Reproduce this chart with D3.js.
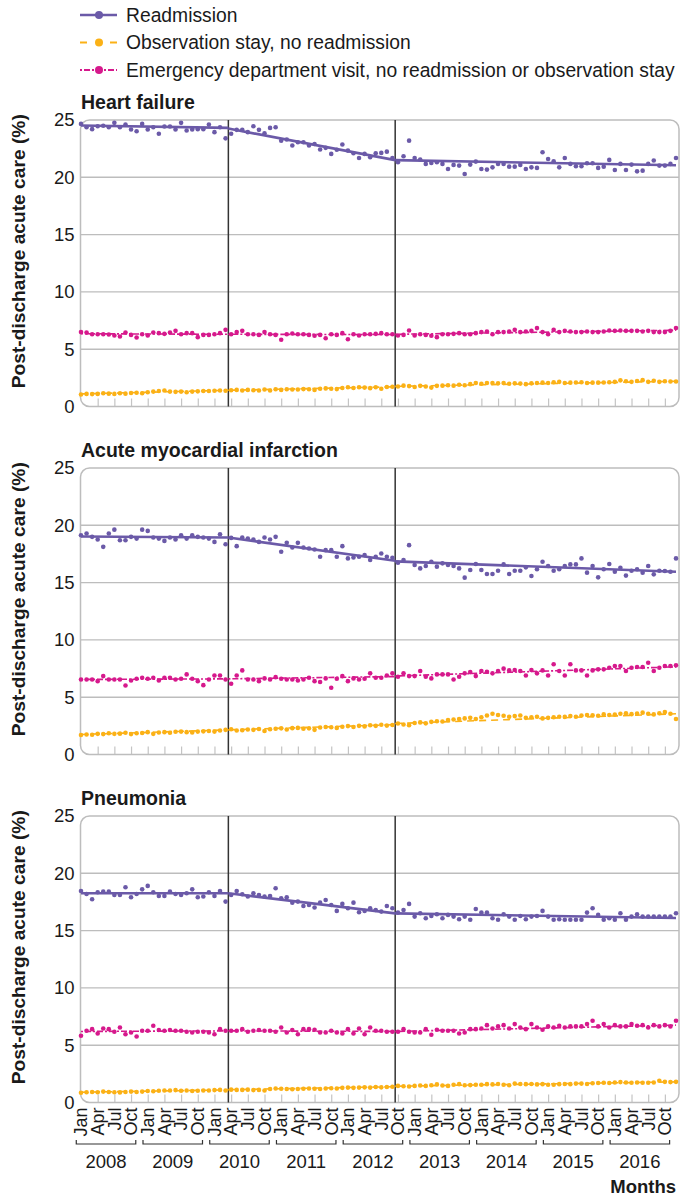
<!DOCTYPE html>
<html><head><meta charset="utf-8">
<script src="https://cdn.jsdelivr.net/npm/d3@7"></script>
<style>
body{margin:0;background:#fff;}
svg{display:block;font-family:"Liberation Sans",Arial,sans-serif;}
</style></head><body>
<svg id="chart" width="680" height="1198"></svg>
<script>
// ---------------- DATA ----------------
const years = [2008, 2009, 2010, 2011, 2012, 2013, 2014, 2015, 2016];
const monthTickLabels = ["Jan", "Apr", "Jul", "Oct"];
const yTicks = [0, 5, 10, 15, 20, 25];
const breakMonths = [26.5, 56.5]; // April 2010 and October 2012
const panelTitles = ["Heart failure", "Acute myocardial infarction", "Pneumonia"];
const seriesNames = ["Readmission", "Observation stay, no readmission",
  "Emergency department visit, no readmission or observation stay"];

// monthly values, Jan 2008 .. Dec 2016 (108 months)
const hfReadmission = [
  24.66,24.37,24.2,24.46,24.5,24.37,24.75,24.37,24.6,24.17,24.02,24.66,
  24.17,24.37,23.8,24.43,24.43,24.17,24.75,24.08,24.17,24.2,24.2,24.6,
  23.94,24.37,23.4,23.8,24.14,24.14,23.94,24.46,24.14,23.85,24.31,24.37,
  23.2,23.3,22.77,23.06,23.06,22.77,22.9,22.42,22.57,22.04,22.4,22.86,
  22.33,22.1,21.69,22.04,21.75,22.1,22.13,22.24,21.69,21.31,21.84,23.2,
  21.69,21.55,21.17,21.25,21.31,21.17,20.73,21.08,21.02,20.29,21.11,21.37,
  20.73,20.67,20.87,21.17,21.17,20.93,20.93,21.08,20.73,20.87,20.82,22.19,
  21.6,21.4,20.87,21.69,21.17,20.96,20.96,21.22,21.22,20.82,20.93,21.52,
  20.64,21.17,20.64,21.11,20.52,20.58,21.17,21.46,21.02,21.02,21.17,21.69];
const hfObservation = [
  1.05,1.10,1.08,1.10,1.15,1.12,1.10,1.15,1.12,1.18,1.20,1.15,
  1.25,1.30,1.35,1.40,1.30,1.28,1.30,1.25,1.30,1.32,1.35,1.35,
  1.38,1.40,1.38,1.42,1.45,1.40,1.45,1.42,1.40,1.48,1.40,1.50,
  1.45,1.50,1.48,1.48,1.52,1.50,1.45,1.55,1.58,1.55,1.52,1.62,
  1.68,1.62,1.68,1.65,1.60,1.68,1.55,1.70,1.72,1.75,1.82,1.78,
  1.70,1.80,1.75,1.65,1.80,1.82,1.85,1.82,1.90,1.85,1.95,2.05,
  1.98,2.05,2.05,2.02,2.05,1.98,2.02,2.00,1.95,2.02,2.05,2.08,
  2.05,2.12,2.15,2.05,2.08,2.10,2.12,2.05,2.08,2.08,2.10,2.12,
  2.15,2.28,2.20,2.15,2.22,2.30,2.15,2.25,2.15,2.20,2.18,2.18];
const hfED = [
  6.49,6.45,6.31,6.31,6.31,6.28,6.20,6.11,6.46,6.25,6.02,6.30,
  6.20,6.46,6.40,6.34,6.46,6.60,6.31,6.40,6.40,6.05,6.25,6.25,
  6.31,6.40,6.69,6.31,6.49,6.60,6.31,6.31,6.25,6.49,6.31,6.25,
  5.82,6.31,6.37,6.31,6.31,6.25,6.17,6.25,5.96,6.31,6.25,6.40,
  5.87,6.31,6.20,6.31,6.31,6.34,6.40,6.31,6.31,6.20,6.25,6.63,
  6.20,6.31,6.25,6.17,6.05,6.31,6.31,6.34,6.40,6.31,6.31,6.40,
  6.49,6.55,6.31,6.49,6.49,6.55,6.69,6.49,6.55,6.60,6.84,6.49,
  6.31,6.69,6.49,6.60,6.55,6.49,6.49,6.55,6.49,6.49,6.55,6.63,
  6.60,6.63,6.60,6.60,6.60,6.55,6.60,6.49,6.49,6.49,6.60,6.84];

const amiReadmission = [
  19.13,19.28,18.99,18.76,18.12,19.28,19.62,18.70,18.70,18.99,18.84,19.62,
  19.51,18.93,18.84,18.64,18.93,18.76,19.13,18.84,19.13,18.99,18.93,18.84,
  18.55,19.22,18.35,18.90,18.18,18.93,18.84,18.76,18.55,18.93,18.76,18.99,
  17.69,18.47,18.06,18.47,18.06,17.98,17.89,17.25,17.83,17.83,17.25,18.18,
  17.11,17.20,17.25,17.40,16.97,17.25,17.54,17.25,17.17,16.73,16.97,18.27,
  16.53,16.24,16.45,16.82,16.39,16.68,16.53,16.45,16.24,15.43,16.10,16.62,
  16.10,15.75,15.75,16.04,16.59,15.75,16.04,16.04,16.33,15.58,16.16,16.82,
  16.45,16.04,16.16,16.45,16.59,16.59,17.11,15.87,16.45,15.46,16.16,16.62,
  15.95,16.30,15.61,16.04,16.16,15.87,16.45,15.72,16.04,16.01,15.95,17.11];
const amiObservation = [
  1.70,1.75,1.72,1.80,1.78,1.85,1.80,1.82,1.90,1.78,1.85,1.88,
  1.95,1.80,1.92,1.95,1.90,1.98,2.00,1.95,1.92,2.00,2.02,2.05,
  2.00,2.10,2.15,2.20,2.10,2.12,2.18,2.15,2.22,2.05,2.20,2.25,
  2.28,2.18,2.30,2.32,2.25,2.28,2.15,2.35,2.40,2.38,2.32,2.42,
  2.48,2.40,2.50,2.45,2.55,2.50,2.60,2.52,2.58,2.70,2.62,2.55,
  2.75,2.80,2.72,2.85,2.90,2.88,3.00,3.05,3.10,3.15,3.20,3.10,
  3.25,3.40,3.55,3.45,3.38,3.30,3.35,3.40,3.20,3.25,3.30,3.15,
  3.20,3.25,3.30,3.28,3.35,3.30,3.40,3.45,3.42,3.38,3.50,3.45,
  3.48,3.55,3.60,3.52,3.58,3.65,3.55,3.50,3.60,3.70,3.55,3.10];
const amiED = [
  6.55,6.55,6.55,6.40,6.84,6.55,6.55,6.55,6.02,6.46,6.61,6.70,
  6.61,6.70,6.46,6.70,6.70,6.55,6.61,6.99,6.61,6.40,6.05,6.55,
  6.90,6.90,6.55,6.17,6.90,7.34,6.55,6.55,6.40,6.64,6.55,6.75,
  6.61,6.55,6.55,6.46,6.55,6.70,6.40,6.32,6.64,5.82,6.61,6.84,
  6.40,6.64,6.55,6.61,7.08,6.70,6.70,6.90,7.08,6.78,7.08,6.84,
  6.84,7.28,6.78,6.64,6.99,6.99,6.99,6.55,6.78,7.08,7.19,6.84,
  7.28,7.22,7.08,7.28,7.49,7.34,7.37,7.28,6.90,7.37,7.08,7.34,
  6.90,7.87,7.28,6.90,7.87,7.34,7.34,6.90,7.34,7.43,7.43,7.57,
  7.72,7.72,7.28,7.57,7.63,7.63,8.01,7.28,7.57,7.72,7.72,7.78];

const pnReadmission = [
  18.46,18.20,17.73,18.34,18.40,18.40,18.11,18.11,18.78,17.91,18.20,18.60,
  18.90,18.34,18.02,18.02,18.40,18.20,18.11,18.26,18.60,17.91,17.97,18.34,
  18.02,18.46,17.53,18.11,18.46,18.17,17.97,18.26,18.11,17.97,18.02,18.69,
  17.82,17.91,17.44,17.53,17.15,17.24,17.01,17.44,17.67,17.24,16.72,17.33,
  16.95,17.44,16.60,16.72,16.95,16.80,16.66,17.15,16.95,16.57,16.80,17.33,
  16.22,16.51,16.08,16.28,16.43,16.08,16.37,16.22,15.99,16.22,15.95,16.89,
  16.57,16.57,16.08,15.95,16.43,16.22,15.95,16.28,15.99,16.22,16.28,16.72,
  16.22,15.95,15.99,15.95,15.95,15.95,15.95,16.57,16.95,16.37,15.95,16.08,
  15.95,16.51,15.95,16.22,16.43,16.22,16.22,16.22,16.22,16.22,16.22,16.51];
const pnObservation = [
  0.85,0.90,0.92,0.90,0.95,0.92,0.90,0.88,0.92,0.95,0.92,0.95,
  1.00,0.98,1.02,1.05,1.05,1.08,1.02,1.05,1.00,1.02,1.05,1.05,
  1.08,1.10,1.05,1.12,1.10,1.10,1.12,1.08,1.10,1.05,1.18,1.22,
  1.20,1.18,1.15,1.18,1.20,1.22,1.20,1.18,1.22,1.25,1.22,1.28,
  1.30,1.28,1.30,1.32,1.30,1.35,1.32,1.35,1.38,1.45,1.42,1.40,
  1.45,1.48,1.45,1.50,1.58,1.48,1.45,1.55,1.60,1.50,1.52,1.55,
  1.55,1.60,1.58,1.62,1.55,1.50,1.65,1.62,1.60,1.62,1.58,1.60,
  1.55,1.55,1.60,1.62,1.60,1.65,1.65,1.62,1.68,1.70,1.72,1.70,
  1.75,1.78,1.75,1.72,1.75,1.72,1.72,1.75,1.90,1.80,1.78,1.80];
const pnED = [
  5.82,6.26,6.40,6.02,6.46,6.40,6.17,6.55,5.96,6.11,5.76,6.26,
  6.26,6.70,6.32,6.26,6.32,6.26,6.26,6.17,6.11,6.17,6.17,6.11,
  5.96,6.40,6.26,6.26,6.26,6.40,6.17,6.26,6.32,6.26,6.26,6.17,
  6.55,6.11,6.32,5.96,6.40,6.40,6.35,6.11,6.11,6.26,6.11,6.02,
  6.40,6.02,6.46,5.96,6.55,6.26,6.26,6.17,6.17,6.17,6.40,6.17,
  6.11,6.11,6.40,5.91,6.35,6.26,6.26,6.26,6.02,6.11,6.40,6.40,
  6.46,6.75,6.46,6.64,6.75,6.46,6.84,6.55,6.40,6.84,6.55,6.35,
  6.64,6.55,6.70,6.55,6.64,6.64,6.64,6.84,7.13,6.64,6.84,6.55,
  6.75,6.64,6.64,6.84,6.70,6.75,6.55,6.75,6.64,6.75,6.64,7.13];

// segmented trend lines: [start, end] values for each segment
// (segments: Jan 2008–Mar 2010, Apr 2010–Sep 2012, Oct 2012–Dec 2016)
const hfReadmissionTrend  = [[24.52, 24.31], [24.25, 21.50], [21.50, 21.05]];
const hfObservationTrend  = [[1.10, 1.42], [1.42, 1.72], [1.76, 2.20]];
const hfEDTrend           = [[6.35, 6.30], [6.30, 6.28], [6.30, 6.65]];
const amiReadmissionTrend = [[19.02, 18.93], [18.93, 16.90], [16.85, 15.95]];
const amiObservationTrend = [[1.75, 2.15], [2.15, 2.60], [2.70, 3.55]];
const amiEDTrend          = [[6.55, 6.60], [6.60, 6.80], [6.85, 7.65]];
const pnReadmissionTrend  = [[18.26, 18.26], [18.26, 16.50], [16.50, 16.10]];
const pnObservationTrend  = [[0.90, 1.10], [1.12, 1.38], [1.42, 1.80]];
const pnEDTrend           = [[6.20, 6.25], [6.25, 6.20], [6.20, 6.75]];

// ---------------- CHART ----------------
const months = d3.range(hfReadmission.length);
const segBounds = [[0, breakMonths[0]], [breakMonths[0], breakMonths[1]], [breakMonths[1], months.length - 1]];
const panels = [
  {title: panelTitles[0], series: [hfObservation, hfED, hfReadmission], trends: [hfObservationTrend, hfEDTrend, hfReadmissionTrend]},
  {title: panelTitles[1], series: [amiObservation, amiED, amiReadmission], trends: [amiObservationTrend, amiEDTrend, amiReadmissionTrend]},
  {title: panelTitles[2], series: [pnObservation, pnED, pnReadmission], trends: [pnObservationTrend, pnEDTrend, pnReadmissionTrend]}
];
const colObs = "#fbb116", colED = "#d6198c", colRead = "#6b5aa8";
const styles = [
  {color: colObs, dash: "7,5", width: 1.6},
  {color: colED, dash: "2,2,6,2", width: 1.6},
  {color: colRead, dash: null, width: 2.6}
];

const svg = d3.select("#chart");
const plotLeft = 80.5, plotRight = 679;
const panelTops = [120, 468, 816], panelH = 286.5;
const x = d3.scaleLinear().domain([0, months.length - 1]).range([81, 676]);
const textCol = "#1a1a1a";

panels.forEach((p, i) => {
  const top = panelTops[i], bottom = top + panelH;
  const y = d3.scaleLinear().domain([0, 25]).range([bottom, top]);
  const g = svg.append("g");

  // grid
  g.selectAll(".grid").data(yTicks.filter(t => t > 0 && t < 25)).join("line")
    .attr("x1", plotLeft).attr("x2", plotRight)
    .attr("y1", d => y(d)).attr("y2", d => y(d))
    .attr("stroke", "#bdbdbd").attr("stroke-width", 1.4);

  // bottom month ticks (inside)
  const xa = g.append("g").attr("transform", `translate(0,${bottom})`)
    .call(d3.axisBottom(x).tickValues(d3.range(3, months.length, 3)).tickSize(-8).tickFormat(""));
  xa.select(".domain").remove();
  xa.selectAll("line").attr("stroke", "#c4c4c4").attr("stroke-width", 1.2);

  // frame
  g.append("rect").attr("x", plotLeft).attr("y", top)
    .attr("width", plotRight - plotLeft).attr("height", panelH)
    .attr("rx", 9).attr("ry", 9)
    .attr("fill", "none").attr("stroke", "#bdbdbd").attr("stroke-width", 1.5);

  // y axis
  const ya = g.append("g").attr("transform", `translate(${plotLeft},0)`)
    .call(d3.axisLeft(y).tickValues(yTicks).tickSize(0).tickPadding(6));
  ya.select(".domain").remove();
  ya.selectAll("text").attr("font-size", 18.5).attr("fill", textCol)
    .attr("font-family", "Liberation Sans, Arial, sans-serif");

  // policy break lines
  g.selectAll(".brk").data(breakMonths).join("line")
    .attr("x1", d => x(d)).attr("x2", d => x(d))
    .attr("y1", top).attr("y2", bottom)
    .attr("stroke", "#333").attr("stroke-width", 1.5);

  // trend lines
  p.trends.forEach((tr, k) => {
    const st = styles[k];
    tr.forEach((seg, s) => {
      g.append("line")
        .attr("x1", x(segBounds[s][0])).attr("x2", x(segBounds[s][1]))
        .attr("y1", y(seg[0])).attr("y2", y(seg[1]))
        .attr("stroke", st.color).attr("stroke-width", st.width)
        .attr("stroke-dasharray", st.dash);
    });
  });

  // dots
  p.series.forEach((vals, k) => {
    g.append("g").selectAll("circle").data(vals).join("circle")
      .attr("cx", (d, j) => x(months[j])).attr("cy", d => y(d))
      .attr("r", 2.3).attr("fill", styles[k].color);
  });

  // title
  g.append("text").attr("x", 81).attr("y", top - 11)
    .attr("font-size", 19.5).attr("font-weight", "bold").attr("fill", textCol)
    .text(p.title);

  // y label
  g.append("text")
    .attr("transform", `translate(25,${top + panelH / 2 - 12}) rotate(-90)`)
    .attr("text-anchor", "middle").attr("font-size", 19.2).attr("font-weight", "bold")
    .attr("fill", textCol).text("Post-discharge acute care (%)");
});

// bottom month labels
const lastBottom = panelTops[2] + panelH;
svg.append("g").selectAll("text").data(d3.range(0, months.length, 3)).join("text")
  .attr("transform", d => `translate(${x(d)},${lastBottom + 5}) rotate(-90)`)
  .attr("text-anchor", "end").attr("dy", "0.35em")
  .attr("font-size", 18).attr("fill", textCol)
  .text(d => monthTickLabels[(d % 12) / 3]);

// year brackets
const yb = svg.append("g");
years.forEach((yr, i) => {
  const x0 = x(i * 12 - 0.85), x1 = x(i * 12 + 9 + 0.85), by = 1144;
  yb.append("path").attr("d", `M${x0},${by - 4}V${by}H${x1}V${by - 4}`)
    .attr("fill", "none").attr("stroke", "#333").attr("stroke-width", 1.2);
  yb.append("text").attr("x", x(i * 12 + 4.5)).attr("y", 1168)
    .attr("text-anchor", "middle").attr("font-size", 18.5).attr("fill", textCol).text(yr);
});
svg.append("text").attr("x", 676).attr("y", 1193).attr("text-anchor", "end")
  .attr("font-size", 18.5).attr("font-weight", "bold").attr("fill", textCol).text("Months");

// legend
const legRows = [
  {name: seriesNames[0], st: styles[2]},
  {name: seriesNames[1], st: styles[0]},
  {name: seriesNames[2], st: styles[1]}
];
const lg = svg.append("g");
legRows.forEach((r, i) => {
  const cy = 15 + i * 27.5;
  lg.append("line").attr("x1", 80).attr("x2", 117).attr("y1", cy).attr("y2", cy)
    .attr("stroke", r.st.color).attr("stroke-width", r.st.dash ? 2 : 2.6)
    .attr("stroke-dasharray", i === 1 ? "7,23" : (i === 2 ? "2,2,6,2" : null));
  lg.append("circle").attr("cx", 99).attr("cy", cy).attr("r", 4).attr("fill", r.st.color);
  lg.append("text").attr("x", 126).attr("y", cy).attr("dy", "0.35em")
    .attr("font-size", 19.3).attr("fill", textCol).text(r.name);
});
</script>
</body></html>
